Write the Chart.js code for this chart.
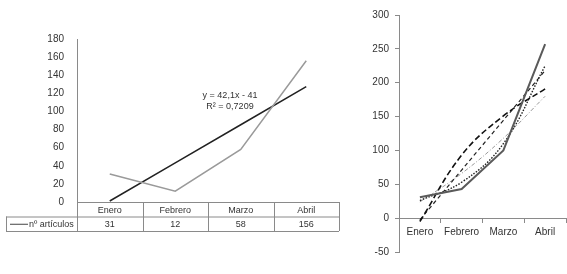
<!DOCTYPE html>
<html>
<head>
<meta charset="utf-8">
<script src="https://cdn.jsdelivr.net/npm/chart.js@4"></script>
<style>
  body { margin: 0; background: #fff; }
  #wrap { position: relative; width: 567px; height: 274px; }
  #left { position: absolute; left: 0; top: 0; }
  #right { position: absolute; left: 360px; top: 0; }
</style>
</head>
<body>
<div id="wrap">
  <canvas id="left" width="345" height="274"></canvas>
  <canvas id="right" width="207" height="274"></canvas>
</div>
<script>
"use strict";

// left chart data
const months = ["Enero", "Febrero", "Marzo", "Abril"];
const articulos = [31, 12, 58, 156];
const trendLeft = [1.1, 43.2, 85.3, 127.4];
const seriesName = "nº artículos";
const equation = ["y = 42,1x - 41", "R² = 0,7209"];

// right chart data
const dataRight = [31, 43, 100, 257];
const logTrend = [-5, 93, 151, 191];
const linTrend = [-2.5, 71, 144.5, 218];
const expTrend = [26, 53, 110, 225];
const powTrend = [24, 66, 118, 180];

const FONT = "'Liberation Sans', Arial, sans-serif";
Chart.defaults.font.family = FONT;
Chart.defaults.color = "#333";
Chart.defaults.animation = false;

// data table + trendline label for the left chart
const tablePlugin = {
  id: "tablePlugin",
  afterDraw(chart) {
    const ctx = chart.ctx;
    const area = chart.chartArea;
    const x = chart.scales.x;
    const rowH = 14.5;
    const top = area.bottom;
    const left = 6;
    ctx.save();
    ctx.strokeStyle = "#8a8a8a";
    ctx.lineWidth = 1;
    ctx.beginPath();
    // horizontal lines
    ctx.moveTo(area.left, top + 0.5); ctx.lineTo(area.right, top + 0.5);
    ctx.moveTo(left, top + rowH + 0.5); ctx.lineTo(area.right, top + rowH + 0.5);
    ctx.moveTo(left, top + 2 * rowH + 0.5); ctx.lineTo(area.right, top + 2 * rowH + 0.5);
    // vertical lines
    ctx.moveTo(left + 0.5, top + rowH); ctx.lineTo(left + 0.5, top + 2 * rowH);
    const w = (area.right - area.left) / months.length;
    for (let i = 0; i <= months.length; i++) {
      const px = Math.round(area.left + i * w) + 0.5;
      ctx.moveTo(px, top); ctx.lineTo(px, top + 2 * rowH);
    }
    ctx.stroke();

    ctx.font = "9px " + FONT;
    ctx.fillStyle = "#333";
    ctx.textAlign = "center";
    ctx.textBaseline = "middle";
    months.forEach((m, i) => {
      const cx = x.getPixelForValue(i);
      ctx.fillText(m, cx, top + rowH / 2 + 1);
      ctx.fillText(String(articulos[i]), cx, top + rowH * 1.5 + 1);
    });
    // legend key in the table
    ctx.strokeStyle = "#444";
    ctx.beginPath();
    ctx.moveTo(10, top + rowH * 1.5 + 0.5); ctx.lineTo(28, top + rowH * 1.5 + 0.5);
    ctx.stroke();
    ctx.textAlign = "left";
    ctx.fillText(seriesName, 29, top + rowH * 1.5 + 1);

    // trendline equation
    ctx.textAlign = "center";
    ctx.fillText(equation[0], 230, 96);
    ctx.fillText(equation[1], 230, 107);
    ctx.restore();
  }
};

new Chart(document.getElementById("left"), {
  type: "line",
  data: {
    labels: months,
    datasets: [
      { label: seriesName, data: articulos, borderColor: "#9a9a9a", borderWidth: 1.5, pointRadius: 0, tension: 0 },
      { label: "Lineal", data: trendLeft, borderColor: "#222", borderWidth: 1.5, pointRadius: 0, tension: 0 }
    ]
  },
  options: {
    responsive: false,
    layout: { padding: { top: 39, right: 6, bottom: 72, left: 0 } },
    plugins: { legend: { display: false }, tooltip: { enabled: false } },
    scales: {
      x: { display: false, offset: true },
      y: {
        min: 0, max: 180,
        afterFit(scale) { scale.width = 77; },
        ticks: { stepSize: 20, font: { size: 10 }, color: "#333", padding: 5 },
        grid: { display: false },
        border: { display: true, color: "#8a8a8a" }
      }
    }
  },
  plugins: [tablePlugin]
});

new Chart(document.getElementById("right"), {
  type: "line",
  data: {
    labels: months,
    datasets: [
      { label: "datos", data: dataRight, borderColor: "#5a5a5a", borderWidth: 2, pointRadius: 0, tension: 0 },
      { label: "Log.", data: logTrend, borderColor: "#111", borderWidth: 1.6, borderDash: [6, 3], pointRadius: 0, tension: 0.4 },
      { label: "Lineal", data: linTrend, borderColor: "#222", borderWidth: 1.2, borderDash: [4, 3], pointRadius: 0, tension: 0 },
      { label: "Exp.", data: expTrend, borderColor: "#222", borderWidth: 1.4, borderDash: [1.5, 1.5], pointRadius: 0, tension: 0.4 },
      { label: "Potencial", data: powTrend, borderColor: "#999", borderWidth: 1, borderDash: [4, 2, 1, 2], pointRadius: 0, tension: 0.4 }
    ]
  },
  options: {
    responsive: false,
    layout: { padding: { top: 15, right: 1, bottom: 22, left: 0 } },
    plugins: { legend: { display: false }, tooltip: { enabled: false } },
    scales: {
      x: {
        offset: true,
        position: { y: 0 },
        ticks: { font: { size: 10 }, color: "#333", padding: 4 },
        grid: { offset: true, drawOnChartArea: false, tickLength: 4, color: "#8a8a8a" },
        border: { color: "#8a8a8a" }
      },
      y: {
        min: -50, max: 300,
        afterFit(scale) { scale.width = 39; },
        ticks: { stepSize: 50, font: { size: 10 }, color: "#333", padding: 6 },
        grid: { drawOnChartArea: false, tickLength: 4, color: "#8a8a8a" },
        border: { color: "#8a8a8a" }
      }
    }
  }
});
</script>
</body>
</html>
